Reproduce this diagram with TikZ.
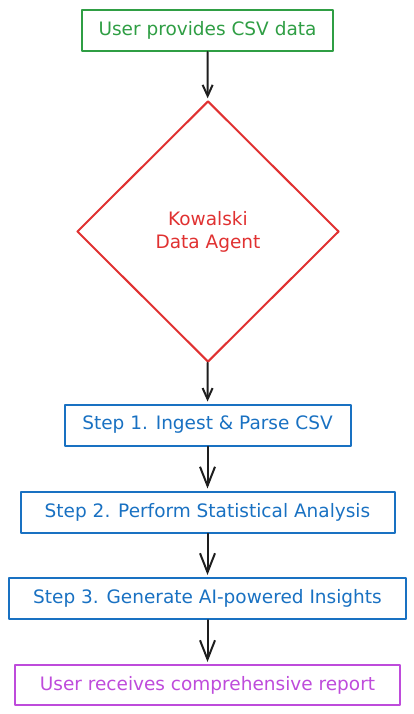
\documentclass[tikz,border=0pt]{standalone}
\usepackage{fontspec}
\setmainfont{DejaVu Sans}
\usetikzlibrary{shapes.geometric,arrows.meta}
\definecolor{boxgreen}{HTML}{2F9E44}
\definecolor{boxred}{HTML}{E03131}
\definecolor{boxblue}{HTML}{1971C2}
\definecolor{boxpurple}{HTML}{BE4BDB}
\definecolor{inkline}{HTML}{1E1E1E}
\begin{document}
\begin{tikzpicture}[x=1pt,y=-1pt,font=\fontsize{18.5}{23}\selectfont, line join=round, line cap=round]
	\tikzset{stepbox/.style={draw=boxblue,text=boxblue,line width=2pt,minimum height=41pt,inner sep=0pt},
		flow/.style={-{Straight Barb[length=11pt,width=10pt]},draw=inkline,line width=2pt,shorten >=2pt},
		bigflow/.style={flow,-{Straight Barb[length=19pt,width=15pt]}}}
	\useasboundingbox (0,0) rectangle (414,714);
	\node[draw=boxgreen,text=boxgreen,line width=2pt,minimum width=251pt,minimum height=41pt,inner sep=0pt] (user) at (207.5,30.5) {User provides CSV data};
	\node[diamond,draw=boxred,text=boxred,line width=2pt,minimum width=262pt,minimum height=261pt,inner sep=0pt,align=center] (agent) at (208,231.5) {Kowalski\\Data Agent};
	\foreach \n/\y/\w/\t in {step1/425/286/{Step 1. Ingest \& Parse CSV},
		step2/512/374/{Step 2. Perform Statistical Analysis},
		step3/598.5/397/{Step 3. Generate AI-powered Insights}}
	\node[stepbox,minimum width=\w pt] (\n) at (207.5,\y) {\t};
	\node[draw=boxpurple,text=boxpurple,line width=2pt,minimum width=385pt,minimum height=40pt,inner sep=0pt] (report) at (207.5,685) {User receives comprehensive report};
	\foreach \a/\b in {user/agent,agent/step1}
	\draw[flow] (\a) -- (\b);
	\foreach \a/\b in {step1/step2,step2/step3,step3/report}
	\draw[bigflow] (\a) -- (\b);
\end{tikzpicture}
\end{document}
